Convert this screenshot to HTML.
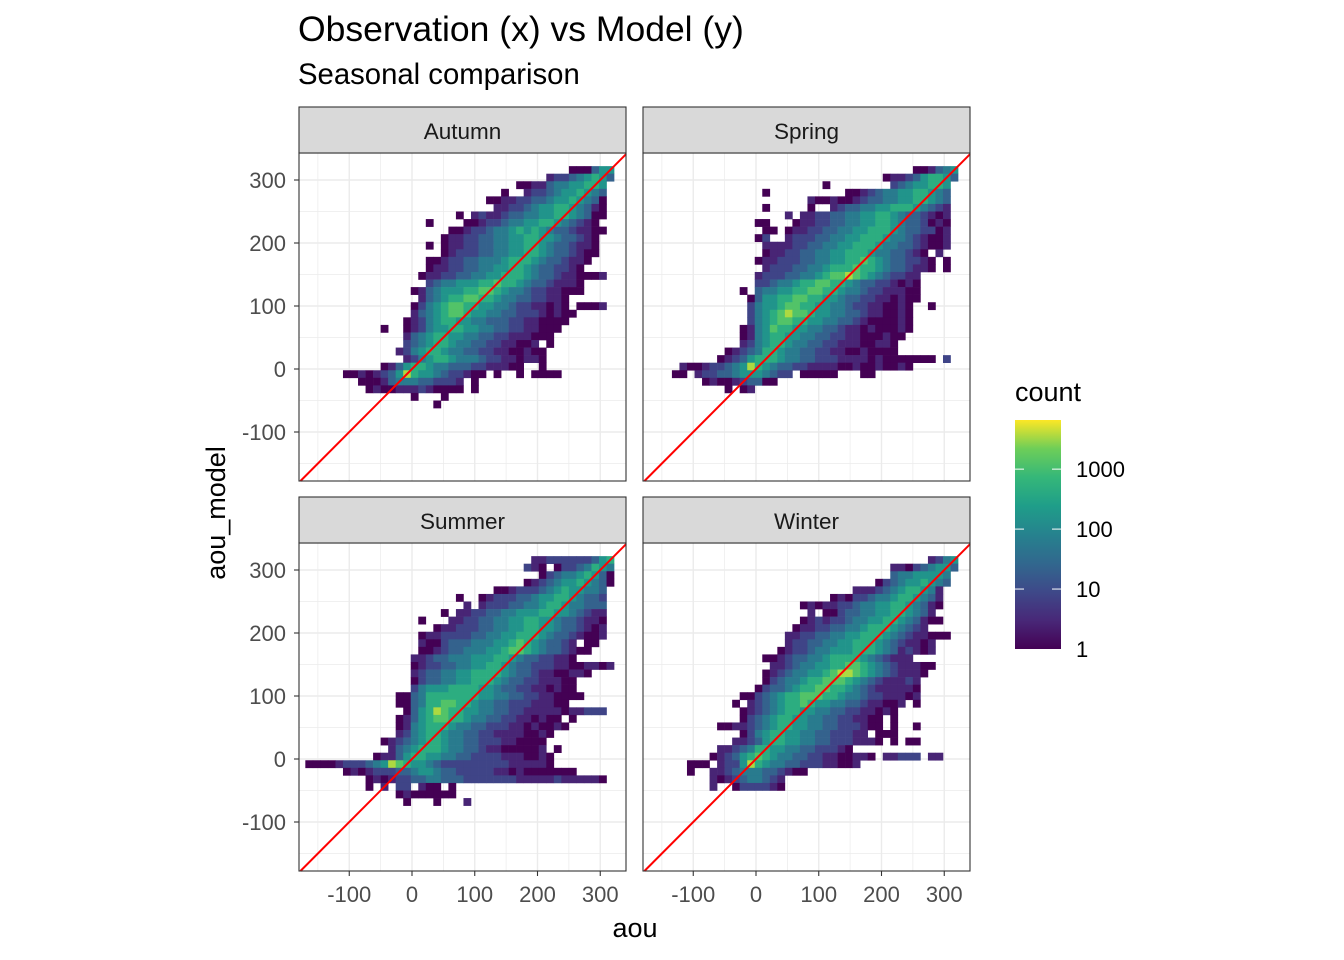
<!DOCTYPE html>
<html><head><meta charset="utf-8">
<style>
html,body{margin:0;padding:0;background:#fff;}
svg{display:block;font-family:"Liberation Sans",Arial,sans-serif;}
</style></head>
<body>
<svg id="chart" width="1344" height="960" viewBox="0 0 1344 960" xmlns="http://www.w3.org/2000/svg">
<rect width="1344" height="960" fill="#fff"/>
<text x="298" y="41" font-size="35.5" fill="#000">Observation (x) vs Model (y)</text>
<text x="298" y="84" font-size="29.3" fill="#000">Seasonal comparison</text>
<text x="635" y="937" font-size="27" fill="#000" text-anchor="middle">aou</text>
<text transform="translate(225,513) rotate(-90)" font-size="27" fill="#000" text-anchor="middle">aou_model</text>
<g id="panels"></g>
<g id="legend">
<defs><linearGradient id="vir" x1="0" y1="1" x2="0" y2="0">
<stop offset="0" stop-color="#440154"/><stop offset="0.125" stop-color="#482878"/><stop offset="0.25" stop-color="#3e4989"/><stop offset="0.375" stop-color="#31688e"/><stop offset="0.5" stop-color="#26828e"/><stop offset="0.625" stop-color="#1f9e89"/><stop offset="0.75" stop-color="#35b779"/><stop offset="0.875" stop-color="#6ece58"/><stop offset="1" stop-color="#fde725"/>
</linearGradient></defs>
<text x="1015" y="401" font-size="27" fill="#000">count</text>
<rect x="1015" y="420" width="46" height="229" fill="url(#vir)"/>
</g>
</svg>
<script>
const panelNames = ['Autumn','Spring','Summer','Winter'];
const binWidth = 12;
const xBinStart = -170;
const yBinTop = 322;
const xTicks = [-100,0,100,200,300];
const yTicks = [-100,0,100,200,300];
const xTickLabels = ['-100','0','100','200','300'];
const yTickLabels = ['-100','0','100','200','300'];
const legendBreaks = [1,10,100,1000];
const legendLabels = ['1','10','100','1000'];
const maxCount = 6600;

const autumnRows = [
"...................................111466",
"................................233456764",
"............................112245566776.",
"..........................1..23345667654.",
"........................1122334456676541.",
".........................223345667765421.",
"....................1.232234455667765411.",
"................1....112334556677654321..",
"...................112334556767654432211.",
"..................122334455667766544321..",
"................1.122334455667765443221..",
"..................123334455667765443211..",
"................1123344555677765443221...",
"................122334455667765443321....",
"...............1223344556677765443221112.",
"................345566677877654432221....",
"..............12456667788765543322111....",
"...............24567788776554433221......",
"..............135678877665543322121.1112.",
"..............2456788766554433321211.....",
".............1235677665544433221111......",
"..........1..123566776655443322111.......",
".............24567766554433222111........",
".............345677655443322112.1........",
"............23567765544332211211.........",
".............2356776555433221221.........",
"..........1246776554443322211..1.........",
".....1121234697665433211.1..1.1111.......",
".......11124555443332.1..................",
"........1211222321111.1..................",
"..............1...1......................",
".................1......................."
];
const springRows = [
"...................................112456",
"...............................1223467764",
".......................1........34566776.",
"...............1..........11234556677654.",
".....................2112112344556677654.",
"...............1.....1..2344556677765432.",
"..................2.22334455667765443212.",
"..............11...122334455667765443121.",
"...............11.1223344556677765443312.",
"..............13..2333445566777655432112.",
"...............2222334455667776554432112.",
"...............1223344556677765544321.2..",
"..............122333445566778765443321.1.",
"...............23334455677787765443221.1.",
"..............2333445567889876543322.....",
"..............3345567788776544332121.....",
"............1.4556677887765543322211.....",
".............14667788776654433221211.....",
".............3566788776655433221121..1...",
".............3567898876655443221121......",
".............3567887766554432111121......",
"............12568776655443221211121......",
"............1256776655443322111211.......",
"............235677655443322211221........",
"..........12345776554433221121111........",
".........12346777655443332222121111111.3.",
"....2112334569765443322221121121121......",
"...11.2334456665433.11111...11...........",
".......1211234411........................",
"..........1.12..........................."
];
const summerRows = [
"..............................22333333467",
".............................321.13345765",
"...............................1345567641",
".............................123456676541",
".........................112333456766554",
"....................1..12333445667765443.",
".....................2.23334455677655444",
"..................1.22334455666776654322",
"...............1...223344556677665443221.",
".................12233344556677665443212.",
"...............1223333445566777654432112.",
"...............211344455566787654432.11..",
"...............11234455566788765443211...",
"..............2234455566677654433221.....",
"..............123344556677654433322112212",
"..............234455667777654432211221...",
"..............1344556677765443322211.....",
"..............3566677776654433221211.....",
"............1145777777766554433221111....",
"............11457788776554433322211......",
".............146798776655443322222122333.",
"............1246788776554433221211.1.....",
"............12567776554433322121121......",
"............235677655443322221121........",
"..........1234567765544333221111.........",
"...........245677765544322111112.1.......",
".........122467766554433332221121........",
"111123334569876654333333333222221........",
".....1212333445665443333322121111111.....",
"........12123344554443333333222223222221.3",
"........1.2.33.211.1.....................",
"............12111111.....................",
".............1...1...2..................."
];
const winterRows = [
".....................................2356",
"................................221345664",
"................................45566665.",
"..............................1345667654",
"...........................222345677652..",
"........................121334556776542..",
"....................1212233455667765421..",
".....................2.113445566776542...",
"....................1232334556677654211..",
"...................122334455677765432....",
"..................2233445566777654322111.",
"..................23344556677765432212...",
".................123345566677765423212...",
"...............11234455677776543222.....",
"................2234556677887654322211...",
"...............1234556678998765432221....",
"...............134556778887654322232.....",
"..............1344567788776543222221.....",
"............113456778887765543322212.....",
"...........1.234567787665544322112.1.....",
"............123456776655443322121........",
"............1345677665544332211.1........",
".........1122345677665544333211.1..1.....",
"............13567766554433322.111........",
"...........22346776655443332221.1.11.....",
".........223457766554433321..............",
"........1234678765544332211221.22333.22..",
".....111.2336976554433322112.............",
".....1..2234555443211....................",
"........2123455432.......................",
"........2..1333321......................."
];
const panelRows = [autumnRows, springRows, summerRows, winterRows];

const NS = 'http://www.w3.org/2000/svg';
const vstops = ['#440154','#482878','#3e4989','#31688e','#26828e','#1f9e89','#35b779','#6ece58','#fde725'];
function hex(c){return [parseInt(c.substr(1,2),16),parseInt(c.substr(3,2),16),parseInt(c.substr(5,2),16)];}
function viridis(t){
  t=Math.max(0,Math.min(1,t));
  const p=t*8, i=Math.min(7,Math.floor(p)), f=p-i;
  const a=hex(vstops[i]), b=hex(vstops[i+1]);
  return 'rgb('+a.map((v,k)=>Math.round(v+(b[k]-v)*f)).join(',')+')';
}
function mk(tag, attrs, parent){
  const e=document.createElementNS(NS,tag);
  for(const k in attrs) e.setAttribute(k,attrs[k]);
  parent.appendChild(e); return e;
}
const panelsG=document.getElementById('panels');
const layout=[{x:299,y:153,x0:412,y0:369},{x:643,y:153,x0:756,y0:369},{x:299,y:543,x0:412,y0:759},{x:643,y:543,x0:756,y0:759}];
const PW=327, PH=328, SC_X=0.6275, SC_Y=0.63;

panelNames.forEach((name,pi)=>{
  const L=layout[pi];
  const sx=v=>L.x0+v*SC_X, sy=v=>L.y0-v*SC_Y;
  const g=mk('g',{},panelsG);
  
  
  const bg=mk('rect',{x:L.x,y:L.y,width:PW,height:PH,fill:'#fff'},g);
  
  
  for(let v=-150; v<=350; v+=50){
    const major = v%100===0;
    const px=sx(v);
    if(px>L.x && px<L.x+PW){
      const gl=mk('line',{x1:px,x2:px,y1:L.y,y2:L.y+PH,stroke:'#ebebeb','stroke-width':major?1.4:0.7},g);
      
      
    }
    const py=sy(v);
    if(py>L.y && py<L.y+PH){
      const gl=mk('line',{y1:py,y2:py,x1:L.x,x2:L.x+PW,stroke:'#ebebeb','stroke-width':major?1.4:0.7},g);
      
      
    }
  }
  const rows=panelRows[pi];
  rows.forEach((row,r)=>{
    for(let j=0;j<41 && j<row.length;j++){
      const ch=row[j];
      if(ch<'1'||ch>'9') continue;
      const lvl=+ch;
      const xv=xBinStart+j*binWidth, yv=yBinTop-(r+1)*binWidth;
      const x1=sx(xv), x2=sx(xv+binWidth), y1=sy(yv+binWidth), y2=sy(yv);
      const c=mk('rect',{x:x1,y:y1,width:x2-x1+0.3,height:y2-y1+0.3,fill:viridis((lvl-1)/8.6)},g);
      
      
    }
  });
  const vmin=Math.max((L.x-L.x0)/SC_X, (L.y0-(L.y+PH))/SC_Y);
  const vmax=Math.min((L.x+PW-L.x0)/SC_X, (L.y0-L.y)/SC_Y);
  const ln=mk('line',{x1:sx(vmin),y1:sy(vmin),x2:sx(vmax),y2:sy(vmax),stroke:'#ff0000','stroke-width':2},g);
  
  
  const br=mk('rect',{x:L.x,y:L.y,width:PW,height:PH,fill:'none',stroke:'#333','stroke-width':1.1},g);
  
  
  const st=mk('rect',{x:L.x,y:L.y-46,width:PW,height:46,fill:'#d9d9d9',stroke:'#333','stroke-width':1.1},g);
  
  
  const stt=mk('text',{x:L.x+PW/2,y:L.y-14,'font-size':22.5,fill:'#1a1a1a','text-anchor':'middle'},g);
  stt.textContent=name;
  
  
  if(pi%2===0){
    yTicks.forEach((v,k)=>{
      const py=sy(v);
      const tk=mk('line',{x1:L.x-5,x2:L.x,y1:py,y2:py,stroke:'#333','stroke-width':1.1},g);
      
      
      const tl=mk('text',{x:L.x-13,y:py+8,'font-size':22,fill:'#4d4d4d','text-anchor':'end'},g);
      tl.textContent=yTickLabels[k];
      
      
    });
  }
  if(pi>=2){
    xTicks.forEach((v,k)=>{
      const px=sx(v);
      const tk=mk('line',{x1:px,x2:px,y1:L.y+PH,y2:L.y+PH+5,stroke:'#333','stroke-width':1.1},g);
      
      
      const tl=mk('text',{x:px,y:L.y+PH+31,'font-size':22,fill:'#4d4d4d','text-anchor':'middle'},g);
      tl.textContent=xTickLabels[k];
      
      
    });
  }
});
const lg=document.getElementById('legend');
const barBottom=649, barTop=420;
legendBreaks.forEach((b,k)=>{
  const py=barBottom-(Math.log10(b)/Math.log10(maxCount))*(barBottom-barTop);
  if(k>0){
    const t1=mk('line',{x1:1015,x2:1024,y1:py,y2:py,stroke:'#fff','stroke-width':1},lg);
    
    
    const t2=mk('line',{x1:1052,x2:1061,y1:py,y2:py,stroke:'#fff','stroke-width':1},lg);
    
    
  }
  const tl=mk('text',{x:1076,y:py+8,'font-size':22,fill:'#000'},lg);
  tl.textContent=legendLabels[k];
  
  
});
</script>
</body></html>
